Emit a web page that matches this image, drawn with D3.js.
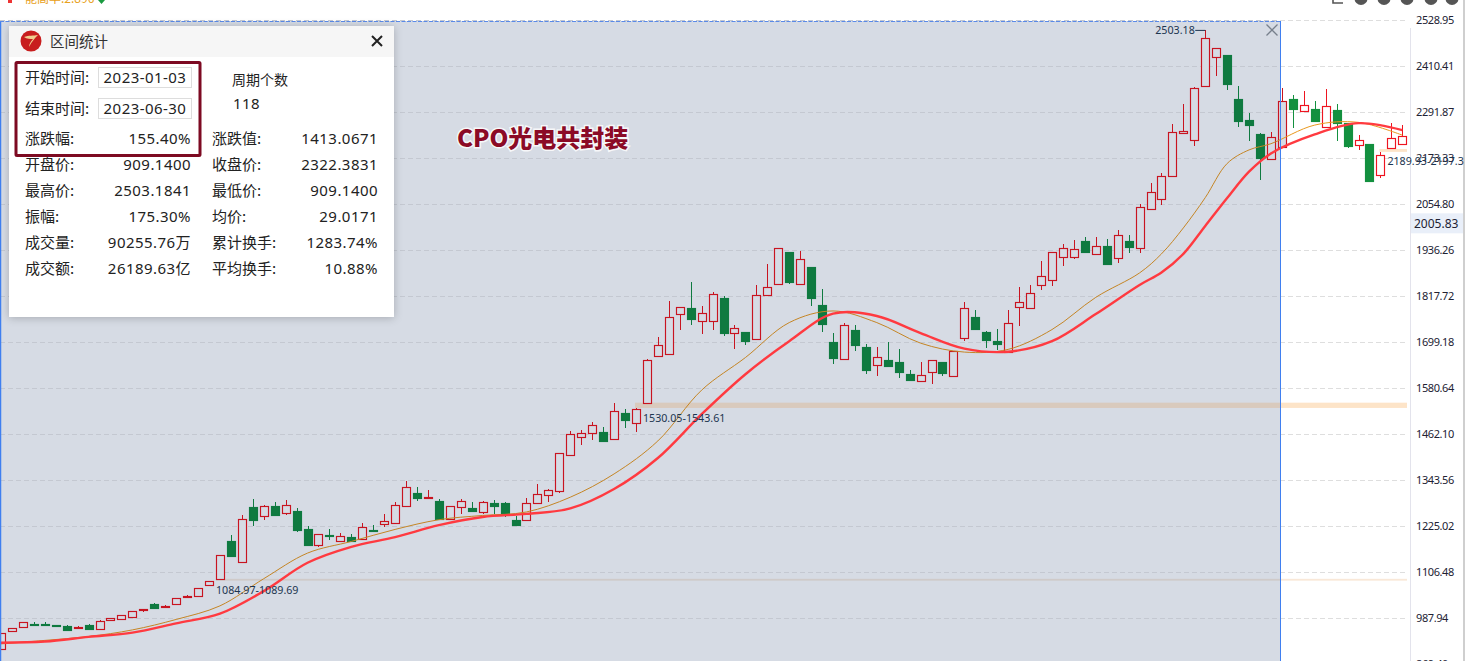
<!DOCTYPE html>
<html><head><meta charset="utf-8">
<script src="https://cdn.jsdelivr.net/npm/d3@7/dist/d3.min.js"></script>
<style>
html,body{margin:0;padding:0;background:#fff;overflow:hidden;width:1465px;height:661px}
svg{display:block}
text{font-family:"Noto Sans",sans-serif}
.cn,.cn text{font-family:"Noto Sans CJK SC","Noto Sans",sans-serif}
.cn text.num{font-family:"Noto Sans","Noto Sans CJK SC",sans-serif;letter-spacing:.45px}
</style></head><body>
<svg id="c" width="1465" height="661"></svg>
<script>
const tickValues=[2528.95,2410.41,2291.87,2173.33,2054.80,1936.26,1817.72,1699.18,1580.64,1462.10,1343.56,1225.02,1106.48,987.94,869.40];
const open=[909,956,965,973,974,971,968,963,971,961,983,987,992,1009,1025,1017,1024,1043,1045,1075,1090,1187,1134,1275,1252,1278,1260,1265,1218,1178,1203,1187,1197,1192,1215,1232,1234,1278,1311,1299,1290,1243,1274,1272,1261,1285,1285,1241,1240,1286,1305,1317,1408,1454,1465,1468,1449,1517,1490,1544,1663,1668,1771,1787,1753,1753,1813,1722,1725,1707,1820,1849,1931,1849,1893,1795,1700,1655,1731,1687,1640,1654,1648,1617,1599,1622,1648,1613,1710,1764,1726,1702,1674,1791,1787,1846,1859,1918,1918,1960,1926,1947,1916,1960,1941,2042,2068,2127,2238,2220,2361,2434,2440,2326,2272,2236,2171,2202,2325,2294,2300,2253,2298,2264,2207,2210,2131,2201,2209];
const close=[949,962,978,971,972,968,958,966,960,980,988,996,1006,1011,1015,1020,1039,1045,1065,1085,1150,1149,1243,1241,1277,1255,1279,1216,1178,1204,1200,1199,1187,1223,1213,1238,1279,1326,1298,1300,1244,1277,1289,1265,1287,1278,1257,1229,1284,1307,1318,1413,1462,1465,1485,1446,1521,1499,1527,1653,1691,1764,1790,1760,1774,1823,1724,1735,1703,1820,1841,1941,1855,1913,1814,1747,1659,1743,1693,1629,1661,1639,1623,1603,1614,1653,1621,1676,1787,1734,1705,1695,1748,1802,1825,1869,1931,1941,1939,1933,1947,1901,1977,1945,2047,2086,2129,2240,2243,2354,2483,2457,2366,2270,2259,2175,2227,2322,2301,2312,2270,2307,2265,2206,2220,2116,2181,2225,2230];
const high=[949,962,978,978,979,971,971,969,972,984,988,996,1006,1011,1027,1021,1039,1048,1065,1085,1150,1203,1254,1295,1280,1288,1293,1272,1226,1204,1218,1207,1205,1233,1228,1257,1288,1342,1326,1319,1295,1277,1295,1288,1290,1293,1288,1252,1298,1334,1321,1413,1471,1473,1494,1481,1542,1527,1530,1656,1712,1806,1790,1855,1793,1829,1818,1744,1727,1847,1901,1941,1931,1934,1893,1837,1723,1748,1744,1695,1687,1700,1682,1628,1648,1653,1648,1676,1803,1782,1728,1733,1782,1842,1847,1909,1931,1952,1963,1970,1970,1965,1989,1976,2056,2110,2135,2262,2313,2357,2503,2457,2440,2360,2290,2239,2241,2354,2336,2347,2321,2352,2313,2264,2233,2210,2190,2264,2259];
const low=[909,956,965,969,969,966,958,960,960,961,983,987,992,1004,1015,1016,1024,1040,1045,1075,1090,1149,1134,1227,1240,1255,1254,1210,1178,1172,1190,1187,1187,1192,1211,1222,1234,1278,1290,1299,1244,1241,1258,1265,1257,1257,1249,1229,1240,1286,1288,1312,1408,1435,1447,1446,1449,1479,1469,1544,1663,1668,1731,1745,1721,1731,1715,1683,1693,1707,1820,1849,1849,1849,1793,1726,1643,1655,1676,1617,1612,1639,1607,1600,1599,1592,1612,1610,1703,1734,1685,1679,1674,1741,1787,1834,1844,1896,1914,1933,1926,1898,1904,1929,1929,2042,2054,2127,2238,2206,2361,2386,2349,2255,2218,2117,2171,2202,2251,2294,2270,2253,2218,2201,2196,2116,2123,2199,2209];
const maIndex=[0,4,8,12,16,20,24,28,32,36,40,44,48,52,56,60,64,68,72,76,80,84,88,92,96,100,104,106,108,110,112,114,116,120,124,128];
const maSlow=[925,928,940,951,975,1000,1058,1131,1172,1197,1228,1249,1257,1271,1321,1401,1514,1617,1702,1773,1767,1723,1683,1675,1702,1772,1847,1879,1927,1999,2071,2139,2186,2235,2264,2246];
const maFast=[922,931,941,958,985,1020,1090,1156,1186,1217,1242,1253,1262,1300,1360,1445,1576,1660,1750,1780,1750,1697,1674,1681,1732,1815,1878,1927,1994,2072,2160,2195,2211,2259,2266,2233];
const gapLow=[1084.97,1530.05,2189.93];
const gapHigh=[1089.69,1543.61,2197.3];
const gapLabels=["1084.97-1089.69","1530.05-1543.61","2189.93-2197.3"];
const gapStart=[20,58,126];
const gapLabelAt=[20,59,126];
const lastPriceLabel="2005.83";
const lastPrice=2005.83;
const peakLabel="2503.18";
const selectedCount=118;
const chartTitle="CPO光电共封装";
const panelTitle="区间统计";
const startDate="2023-01-03", endDate="2023-06-30";
const leftLabels=["涨跌幅:","开盘价:","最高价:","振幅:","成交量:","成交额:"];
const leftValues=["155.40%","909.1400","2503.1841","175.30%","90255.76万","26189.63亿"];
const rightLabels=["涨跌值:","收盘价:","最低价:","均价:","累计换手:","平均换手:"];
const rightValues=["1413.0671","2322.3831","909.1400","29.0171","1283.74%","10.88%"];

const svg=d3.select("#c");
const n=open.length;
const x=d3.scaleLinear().domain([0,n-1]).range([1,1402.3]);
const y=d3.scaleLinear().domain([tickValues[0],tickValues[tickValues.length-1]]).range([20.33,664.3]);
const selRight=1280.5, gridRight=1407, bw=8;

const defs=svg.append("defs");
defs.append("clipPath").attr("id","inSel").append("rect").attr("x",0).attr("y",0).attr("width",selRight).attr("height",661);
defs.append("clipPath").attr("id","outSel").append("rect").attr("x",selRight).attr("y",0).attr("width",1465-selRight).attr("height",661);

// top strip fragments
svg.append("rect").attr("x",8).attr("y",-3).attr("width",4).attr("height",6).attr("fill","#e33");
svg.append("text").attr("x",25).attr("y",3).attr("font-size",12).attr("fill","#e8a020").style("font-family",'"Noto Sans CJK SC"').text("能高率:2.896");
svg.append("path").attr("d","M98,0h7l-3.5,4z").attr("fill","#1a9a40");
svg.selectAll("circle.ic").data([1361,1384,1407,1431,1452]).join("circle").attr("class","ic").attr("cx",d=>d).attr("cy",-1.5).attr("r",6.5).attr("fill","#555");
svg.append("path").attr("d","M1333,-2v5h10").attr("fill","none").attr("stroke","#555").attr("stroke-width",1.6);

// selection background
svg.append("rect").attr("x",0).attr("y",21).attr("width",selRight).attr("height",640).attr("fill","#d6dbe4");

// grid
const gridG=svg.append("g");
[["inSel","#c4c8d1"],["outSel","#dedede"]].forEach(([cp,col])=>{
  gridG.append("g").attr("clip-path",`url(#${cp})`).selectAll("line").data(tickValues).join("line")
   .attr("x1",0).attr("x2",gridRight).attr("y1",d=>Math.round(y(d))+.5).attr("y2",d=>Math.round(y(d))+.5)
   .attr("stroke",col).attr("stroke-dasharray","5,3");
});

// gap bands
const gaps=gapLow.map((l,i)=>({l,h:gapHigh[i],s:gapStart[i],t:gapLabels[i],a:gapLabelAt[i]}));
const bandX=d=>d.s==58?x(d.s)-1:x(d.s)-4+(d.s==126?3:0);
[["inSel",["#cfcac9","#d9cabd","#d9cabd"]],["outSel",["#f9e8d8","#fde4c8","#fde4c8"]]].forEach(([cp,cols])=>{
  svg.append("g").attr("clip-path",`url(#${cp})`).selectAll("rect").data(gaps).join("rect")
   .attr("x",bandX).attr("width",d=>gridRight-bandX(d))
   .attr("y",d=>y(d.h)).attr("height",d=>Math.max(1.2,y(d.l)-y(d.h)))
   .attr("fill",(d,i)=>cols[i]);
});

// axis
svg.append("line").attr("x1",1410.5).attr("x2",1410.5).attr("y1",28).attr("y2",661).attr("stroke","#e3e3ec");
svg.append("rect").attr("x",1463).attr("y",0).attr("width",2).attr("height",661).attr("fill","#cfcfcf");
svg.append("g").selectAll("text").data(tickValues).join("text")
  .attr("x",1416).attr("y",d=>y(d)+4).attr("font-size",11).attr("letter-spacing",-.4).attr("fill","#223").text(d=>d.toFixed(2));
svg.append("rect").attr("x",1411).attr("y",y(lastPrice)-10).attr("width",52).attr("height",20).attr("fill","#e9eff9");
svg.append("text").attr("x",1414).attr("y",y(lastPrice)+4.5).attr("font-size",12).attr("fill","#223").text(lastPriceLabel);

// candles
const candles=d3.range(n).map(i=>({i,o:open[i],c:close[i],h:high[i],l:low[i],up:close[i]>=open[i],sel:i<selectedCount}));
const colr=d=>d.up?(d.sel?"#c81420":"#ee1420"):(d.sel?"#0f7a40":"#13903f");
const topY=d=>Math.round(y(Math.max(d.o,d.c)))+.5;
const botY=d=>Math.round(y(Math.min(d.o,d.c)))+.5;
const cg=svg.append("g");
cg.selectAll("line").data(candles).join("line")
  .attr("x1",d=>Math.round(x(d.i))+.5).attr("x2",d=>Math.round(x(d.i))+.5)
  .attr("y1",d=>Math.round(y(d.h))).attr("y2",d=>Math.round(y(d.l))).attr("stroke",colr).attr("stroke-width",1).attr("shape-rendering","crispEdges");
cg.selectAll("rect").data(candles).join("rect")
  .attr("x",d=>Math.round(x(d.i))-3.5).attr("width",bw)
  .attr("y",topY).attr("height",d=>Math.max(1,botY(d)-topY(d)))
  .attr("fill",d=>d.up?(d.sel?"#d6dbe4":"#fff"):colr(d))
  .attr("stroke",colr).attr("stroke-width",1.15);

// moving averages
const line=vals=>d3.line().x((d,i)=>x(maIndex[i])).y(d=>y(d)).curve(d3.curveCatmullRom.alpha(.5))(vals);
[["inSel","#c58524"],["outSel","#e8981e"]].forEach(([cp,col])=>{
  svg.append("path").attr("clip-path",`url(#${cp})`).attr("d",line(maFast)).attr("fill","none").attr("stroke",col).attr("stroke-width",1);
});
svg.append("path").attr("d",line(maSlow)).attr("fill","none").attr("stroke","#ff3a40").attr("stroke-width",2.4);

// selection frame
svg.append("line").attr("x1",.5).attr("x2",.5).attr("y1",21).attr("y2",661).attr("stroke","#3f7ff0").attr("stroke-width",1.5);
svg.append("line").attr("x1",selRight).attr("x2",selRight).attr("y1",21).attr("y2",661).attr("stroke","#3f7ff0");
svg.append("line").attr("x1",0).attr("x2",selRight).attr("y1",21.5).attr("y2",21.5).attr("stroke","#5a8ae8").attr("stroke-dasharray","4,1.5");
svg.append("path").attr("d","M1266.5,24.5l11,11M1277.5,24.5l-11,11").attr("stroke","#77808c").attr("stroke-width",1.3).attr("fill","none");

// gap labels
svg.append("g").selectAll("text").data(gaps).join("text")
  .attr("x",d=>x(d.a)-4+(d.s==126?11:0)).attr("y",d=>d.s==126?165:y(d.l)+(d.s==20?13:14.5))
  .attr("font-size",10.7).attr("fill","#1c3550").text(d=>d.t);

// peak label
const pk=d3.greatestIndex(high);
svg.append("text").attr("x",x(pk)-50).attr("y",y(high[pk])+4).attr("font-size",10.7).attr("fill","#1c3550").text(peakLabel);
svg.append("path").attr("d",`M${x(pk)-10},${y(high[pk])}H${x(pk)}`).attr("stroke","#1c3550").attr("fill","none");

// title
svg.append("text").attr("x",457).attr("y",147).attr("font-size",24).attr("font-weight",900)
  .style("font-family",'"Noto Sans CJK SC"').attr("fill","#8b0a26").attr("stroke","#fff").attr("stroke-width",3)
  .attr("stroke-opacity",.8).attr("paint-order","stroke").text(chartTitle);

// panel
const p=svg.append("g").attr("class","cn");
p.append("rect").attr("x",9).attr("y",26).attr("width",385).attr("height",291).attr("fill","#fff").style("filter","drop-shadow(0 1px 4px rgba(0,0,0,.22))");
p.append("rect").attr("x",9).attr("y",26).attr("width",385).attr("height",31).attr("fill","#f6f6f6");
p.append("circle").attr("cx",31).attr("cy",41).attr("r",10.5).attr("fill","#c81e1e");
p.append("path").attr("d","M24,37c5,-2 9,-1 14,-2c-3,3 -6,6 -9,12c0,-3 2,-6 4,-8c-3,0 -6,0 -9,-2z").attr("fill","#f0cf90");
p.append("text").attr("x",50).attr("y",47).attr("font-size",14.5).attr("fill","#333").text(panelTitle);
p.append("path").attr("d","M372,36l10,10M382,36l-10,10").attr("stroke","#222").attr("stroke-width",2).attr("fill","none");
p.append("rect").attr("x",16).attr("y",62.5).attr("width",184).attr("height",93).attr("fill","none").attr("stroke","#7d0a22").attr("stroke-width",3).attr("rx",1);
[[78,"开始时间:",startDate,67],[108.5,"结束时间:",endDate,98]].forEach(([ty,lab,v,by])=>{
  p.append("rect").attr("x",98.5).attr("y",by+.5).attr("width",93).attr("height",20).attr("fill","#fff").attr("stroke","#ddd");
  p.append("text").attr("x",25).attr("y",ty+5).attr("font-size",15).attr("fill","#222").text(lab);
  p.append("text").attr("class","num").attr("x",145).attr("y",ty+5).attr("text-anchor","middle").attr("font-size",15).attr("fill","#222").text(v);
});
p.append("text").attr("x",232).attr("y",85).attr("font-size",14).attr("fill","#222").text("周期个数");
p.append("text").attr("class","num").attr("x",233).attr("y",109).attr("font-size",15).attr("fill","#222").text(selectedCount);
const rowY=[139,165,191,217,243,269];
const rows=(labs,vals,lx,rx)=>{
  p.append("g").selectAll("text").data(labs).join("text").attr("x",lx).attr("y",(d,i)=>rowY[i]+5).attr("font-size",15).attr("fill","#222").text(d=>d);
  p.append("g").selectAll("text").data(vals).join("text").attr("class","num").attr("x",rx).attr("y",(d,i)=>rowY[i]+5).attr("text-anchor","end").attr("font-size",15).attr("fill","#222").text(d=>d);
};
rows(leftLabels,leftValues,25,191);
rows(rightLabels,rightValues,212,378);
</script>
</body></html>
